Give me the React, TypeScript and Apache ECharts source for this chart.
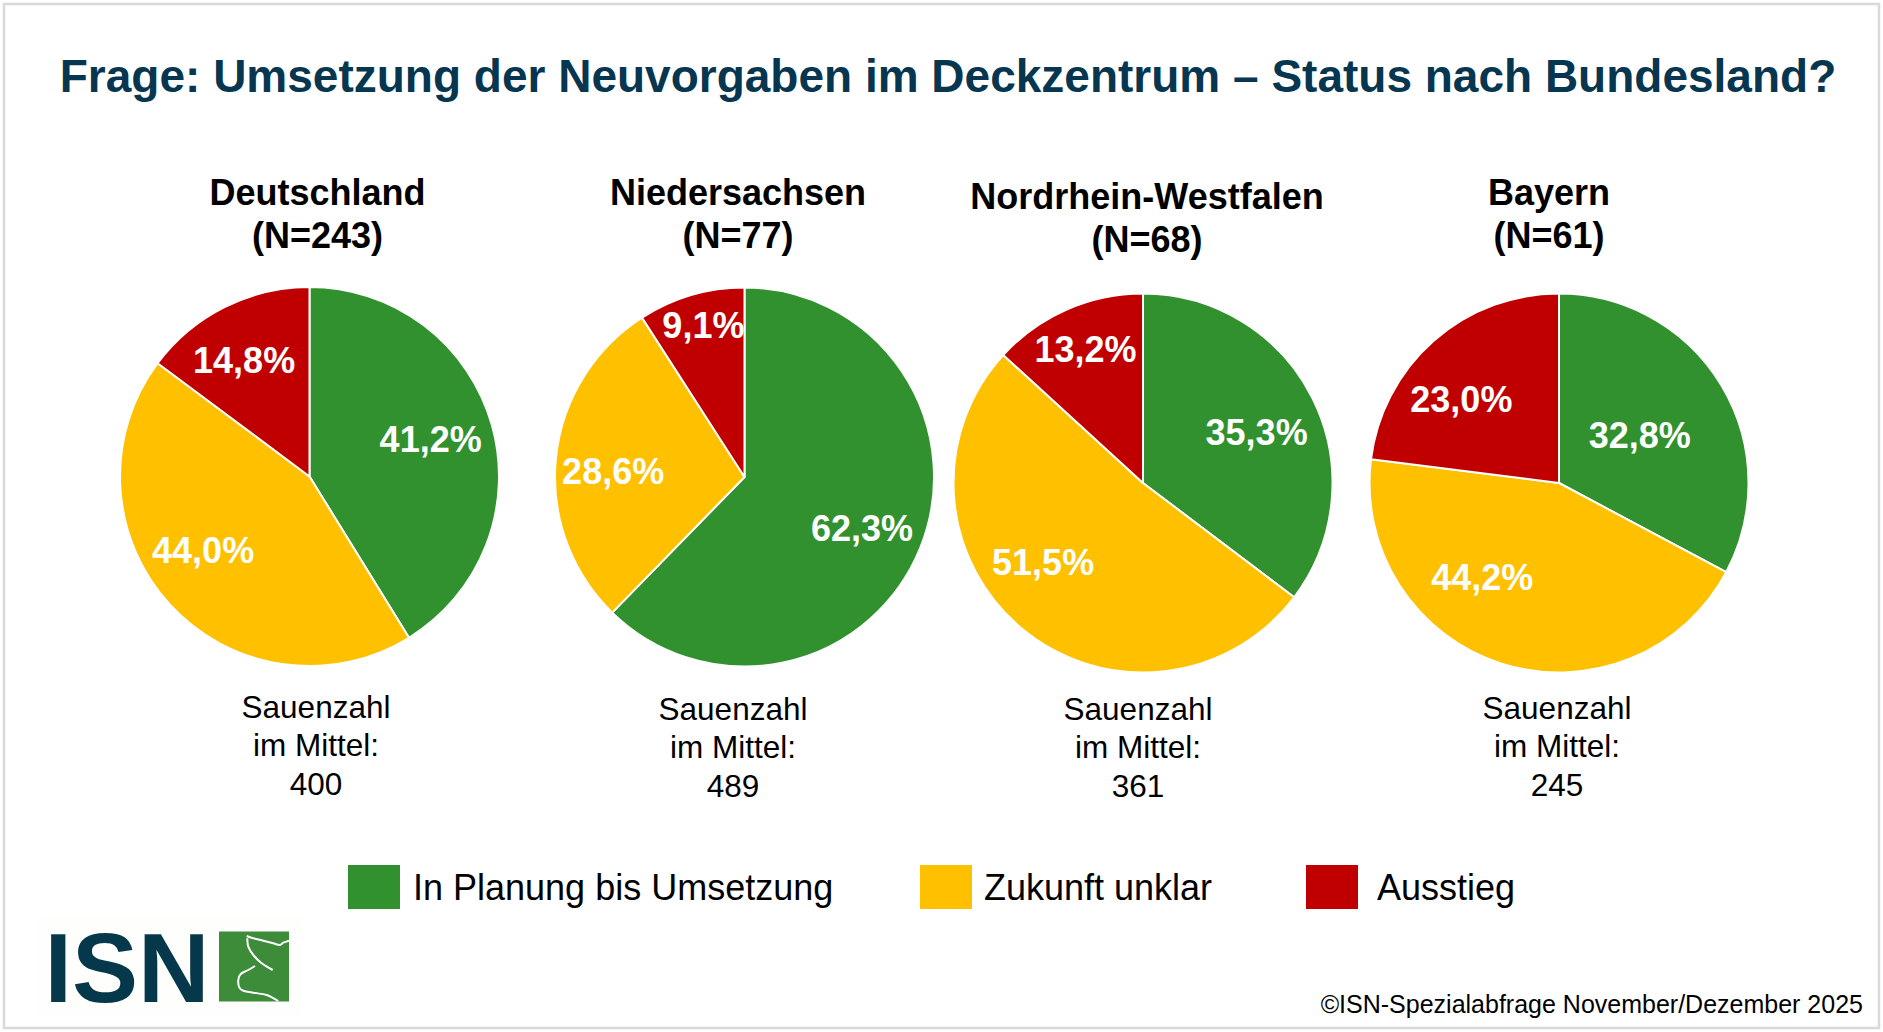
import React, { useEffect, useRef } from 'react';
import * as echarts from 'echarts';

// ---------------- data ----------------
const categories = ['In Planung bis Umsetzung', 'Zukunft unklar', 'Ausstieg'];
const regions = ['Deutschland', 'Niedersachsen', 'Nordrhein-Westfalen', 'Bayern'];
const sampleSizes = [243, 77, 68, 61];
const sowMeans = [400, 489, 361, 245];
const shareDeutschland = [41.2, 44.0, 14.8];
const shareNiedersachsen = [62.3, 28.6, 9.1];
const shareNRW = [35.3, 51.5, 13.2];
const shareBayern = [32.8, 44.2, 23.0];
const shares = [shareDeutschland, shareNiedersachsen, shareNRW, shareBayern];
const titleText = 'Frage: Umsetzung der Neuvorgaben im Deckzentrum – Status nach Bundesland?';
const sourceText = '©ISN-Spezialabfrage November/Dezember 2025';
const footLines = ['Sauenzahl', 'im Mittel:'];

// ---------------- layout / style ----------------
const FONT = '"Liberation Sans", Arial, Helvetica, sans-serif';
const COLORS = ['#31912E', '#FFC000', '#C00000'];
const TITLE_COLOR = '#073650';
const R = 189.5;
const LABEL_R = 125;
const LAYOUT = [
  { cx: 309.5, cy: 476.5, headX: 317.5, headY: 214, footX: 316, footY: 745, nudges: [[-2, -2], [-12, -12], [-8, -2]] },
  { cx: 744.5, cy: 477, headX: 738, headY: 214, footX: 733, footY: 747, nudges: [[-1, 3], [-4, 7], [-5, -29]] },
  { cx: 1143, cy: 483, headX: 1147, headY: 218, footX: 1138, footY: 747, nudges: [[-1, 7], [-18, -19], [-6, -16]] },
  { cx: 1559, cy: 483, headX: 1549, headY: 214, footX: 1557, footY: 746, nudges: [[-29, 18], [-38, -27], [-13, 13]] },
];
const LEGEND_POS = [
  { left: 346, pad: 7 },
  { left: 918, pad: 6 },
  { left: 1304, pad: 13 },
];

const fmtPct = (v: number) => v.toFixed(1).replace('.', ',') + '%';

function buildOption() {
  const series: any[] = [];
  // main pies
  LAYOUT.forEach((L, k) => {
    series.push({
      type: 'pie',
      name: regions[k],
      center: [L.cx, L.cy],
      radius: [0, R],
      startAngle: 90,
      clockwise: true,
      silent: true,
      avoidLabelOverlap: false,
      label: { show: false },
      labelLine: { show: false },
      itemStyle: { borderColor: '#ffffff', borderWidth: 2 },
      data: categories.map((name, i) => ({
        name,
        value: shares[k][i],
        itemStyle: { color: COLORS[i] },
      })),
    });
  });
  // label carrier pies (transparent), label placed at LABEL_R
  LAYOUT.forEach((L, k) => {
    series.push({
      type: 'pie',
      name: regions[k] + ' labels',
      center: [L.cx, L.cy],
      radius: [0, LABEL_R * 2],
      startAngle: 90,
      clockwise: true,
      silent: true,
      z: 5,
      avoidLabelOverlap: false,
      itemStyle: { color: 'rgba(0,0,0,0)', borderWidth: 0 },
      label: {
        show: true,
        position: 'inside',
        color: '#ffffff',
        fontSize: 36,
        fontWeight: 'bold',
        fontFamily: FONT,
        formatter: (p: any) => fmtPct(p.value),
      },
      labelLine: { show: false },
      labelLayout: (p: any) => ({ dx: L.nudges[p.dataIndex][0], dy: L.nudges[p.dataIndex][1] }),
      data: categories.map((name, i) => ({ name, value: shares[k][i] })),
    });
  });

  const legend = categories.map((name, i) => ({
    data: [{ name, itemStyle: { color: COLORS[i] } }],
    left: LEGEND_POS[i].left,
    top: 863,
    padding: 0,
    itemWidth: 54,
    itemHeight: 46,
    icon: 'rect',
    selectedMode: false,
    textStyle: { fontSize: 36, color: '#000', fontFamily: FONT, padding: [0, 0, 0, LEGEND_POS[i].pad] },
  }));

  const graphics: any[] = [];
  graphics.push({
    type: 'rect', z: -10, silent: true,
    shape: { x: 4, y: 4, width: 1875, height: 1024 },
    style: { fill: 'none', stroke: '#d9d9d9', lineWidth: 2.5 },
  });
  graphics.push({
    type: 'text', silent: true,
    style: {
      text: titleText, x: 948, y: 75.5, fill: TITLE_COLOR,
      font: `bold 46px ${FONT}`, textAlign: 'center', textVerticalAlign: 'middle',
    },
  });
  LAYOUT.forEach((L, k) => {
    graphics.push({
      type: 'text', silent: true,
      style: {
        text: `${regions[k]}\n(N=${sampleSizes[k]})`, x: L.headX, y: L.headY, fill: '#000',
        font: `bold 36px ${FONT}`, lineHeight: 43.5, textAlign: 'center', textVerticalAlign: 'middle',
      },
    });
    graphics.push({
      type: 'text', silent: true,
      style: {
        text: `${footLines[0]}\n${footLines[1]}\n${sowMeans[k]}`, x: L.footX, y: L.footY, fill: '#000',
        font: `31.5px ${FONT}`, lineHeight: 38.5, textAlign: 'center', textVerticalAlign: 'middle',
      },
    });
  });
  graphics.push({
    type: 'text', silent: true,
    style: {
      text: sourceText, x: 1863, y: 1004, fill: '#000',
      font: `25px ${FONT}`, textAlign: 'right', textVerticalAlign: 'middle',
    },
  });
  // ISN logo
  graphics.push({
    type: 'rect', silent: true,
    shape: { x: 37, y: 917, width: 265, height: 98 },
    style: { fill: '#FEFEFC' },
  });
  graphics.push({
    type: 'text', silent: true,
    style: {
      text: 'ISN', x: 44.5, y: 967, fill: '#04384A',
      font: `bold 99px ${FONT}`, textAlign: 'left', textVerticalAlign: 'middle',
    },
  });
  graphics.push({
    type: 'rect', silent: true,
    shape: { x: 219, y: 931.5, width: 70, height: 70 },
    style: { fill: '#3D8C3A' },
  });
  const pigLines = [
    [[246.7, 936], [253.3, 938.3], [263.3, 940.7], [273.3, 943.3], [280, 945], [283.3, 942.7], [289, 940.7]],
    [[247.3, 938.3], [248.3, 946.7], [253.3, 955], [261.7, 963.3], [272.7, 970]],
    [[255, 966], [248.3, 970], [240.7, 974], [238.3, 980], [239.3, 987.3], [243.3, 990.7], [253.3, 992.7], [266.7, 995], [278.3, 1001]],
  ];
  pigLines.forEach((pts) => {
    graphics.push({
      type: 'polyline', silent: true,
      shape: { points: pts, smooth: 0.3 },
      style: { stroke: '#ffffff', lineWidth: 2, fill: 'none' },
    });
  });

  return {
    animation: false,
    backgroundColor: '#ffffff',
    textStyle: { fontFamily: FONT },
    legend,
    series,
    graphic: graphics,
  };
}

export default function App() {
  const ref = useRef<HTMLDivElement>(null);
  useEffect(() => {
    if (!ref.current) return;
    const chart = echarts.init(ref.current, undefined, { renderer: 'svg' });
    chart.setOption(buildOption() as any);
    return () => chart.dispose();
  }, []);
  return (
    <div
      ref={ref}
      style={{ position: 'absolute', left: 0, top: 0, width: '1883px', height: '1032px', background: '#fff' }}
    />
  );
}
